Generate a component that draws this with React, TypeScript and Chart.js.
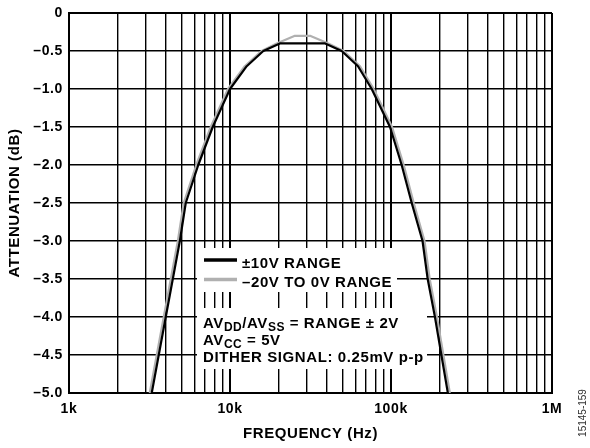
import React, { useEffect, useRef } from 'react';
import { Chart, registerables } from 'chart.js';

Chart.register(...registerables);

// ---- data ----
const X_TICK_VALUES = [1e3, 1e4, 1e5, 1e6];
const X_TICK_LABELS = ['1k', '10k', '100k', '1M'];
const Y_TICK_VALUES = [0, -0.5, -1, -1.5, -2, -2.5, -3, -3.5, -4, -4.5, -5];
const Y_TICK_LABELS = ['0', '–0.5', '–1.0', '–1.5', '–2.0', '–2.5', '–3.0', '–3.5', '–4.0', '–4.5', '–5.0'];
const MINOR_MULTIPLES = [1, 2, 3, 4, 5, 6, 7, 8, 9];

const SERIES_LABELS = ['±10V RANGE', '–20V TO 0V RANGE'];

const BLACK_FREQ = [3265, 3990, 4880, 5310, 6350, 7810, 10000, 12700, 16100, 20400, 39000, 49400, 62400, 75900, 98600, 116500, 134500, 157000, 169000, 187500, 205600, 225500];
const BLACK_ATT = [-5.0, -4.0, -3.0, -2.5, -2.0, -1.5, -1.0, -0.7, -0.5, -0.4, -0.4, -0.5, -0.7, -1.0, -1.5, -2.0, -2.5, -3.0, -3.5, -4.0, -4.5, -5.0];

const GRAY_FREQ = [3174, 3878, 4743, 5161, 6172, 7591, 9720, 12350, 15700, 19500, 25300, 31400, 40800, 50800, 64200, 78100, 101500, 119900, 138400, 161500, 173900, 192900, 211500, 232000];
const GRAY_ATT = [-5.0, -4.0, -3.0, -2.5, -2.0, -1.5, -1.0, -0.7, -0.5, -0.4, -0.3, -0.3, -0.4, -0.5, -0.7, -1.0, -1.5, -2.0, -2.5, -3.0, -3.5, -4.0, -4.5, -5.0];

const NOTE_LINES = [
  [{ t: 'AV' }, { t: 'DD', sub: true }, { t: '/AV' }, { t: 'SS', sub: true }, { t: ' = RANGE ± 2V' }],
  [{ t: 'AV' }, { t: 'CC', sub: true }, { t: ' = 5V' }],
  [{ t: 'DITHER SIGNAL: 0.25mV p-p' }],
];

const FIG_ID = '15145-159';

const FONT = '"Liberation Sans", Arial, Helvetica, sans-serif';

const X_GRID: number[] = [];
for (let d = 0; d < 3; d++) {
  for (const m of MINOR_MULTIPLES) X_GRID.push(m * X_TICK_VALUES[d]);
}
X_GRID.push(X_TICK_VALUES[3]);

const toPoints = (xs: number[], ys: number[]) => xs.map((x, i) => ({ x, y: ys[i] }));

const spacingPlugin = {
  id: 'spacing',
  beforeLayout(chart: any) {
    chart.ctx.letterSpacing = '0.6px';
  },
  beforeDraw(chart: any) {
    chart.ctx.letterSpacing = '0.6px';
  },
};

const annotationPlugin = {
  id: 'annot',
  beforeDatasetsDraw(chart: any) {
    const ctx = chart.ctx as CanvasRenderingContext2D;
    ctx.save();
    ctx.fillStyle = '#ffffff';
    ctx.fillRect(197, 248, 200, 44);
    ctx.fillRect(197, 308, 230, 61);

    const legendY = [260, 279.5];
    const textBase = [267.5, 286.5];
    chart.data.datasets.forEach((ds: any, i: number) => {
      ctx.strokeStyle = ds.borderColor;
      ctx.lineWidth = 3.5;
      ctx.lineCap = 'butt';
      ctx.beginPath();
      ctx.moveTo(204, legendY[i]);
      ctx.lineTo(237, legendY[i]);
      ctx.stroke();
      ctx.fillStyle = '#000';
      ctx.font = `bold 15px ${FONT}`;
      (ctx as any).letterSpacing = '0.6px';
      ctx.textBaseline = 'alphabetic';
      ctx.textAlign = 'left';
      ctx.fillText(ds.label, 242, textBase[i]);
    });

    const bases = [327.5, 344.5, 362];
    NOTE_LINES.forEach((parts, li) => {
      let x = 203;
      parts.forEach((p: any) => {
        if (p.sub) {
          ctx.font = `bold 12px ${FONT}`;
          (ctx as any).letterSpacing = '0.5px';
          ctx.fillText(p.t, x, bases[li] + 3);
        } else {
          ctx.font = `bold 15px ${FONT}`;
          (ctx as any).letterSpacing = '0.6px';
          ctx.fillText(p.t, x, bases[li]);
        }
        x += ctx.measureText(p.t).width;
      });
    });
    ctx.restore();
  },
  afterDraw(chart: any) {
    const ctx = chart.ctx as CanvasRenderingContext2D;
    ctx.save();
    (ctx as any).letterSpacing = '0px';
    ctx.translate(583, 413);
    ctx.rotate(-Math.PI / 2);
    ctx.font = `10px ${FONT}`;
    ctx.fillStyle = '#333';
    ctx.textAlign = 'center';
    ctx.textBaseline = 'middle';
    ctx.fillText(FIG_ID, 0, 0);
    ctx.restore();
  },
};

export default function App() {
  const ref = useRef<HTMLCanvasElement | null>(null);

  useEffect(() => {
    if (!ref.current) return;
    const chart = new Chart(ref.current, {
      type: 'line',
      data: {
        datasets: [
          {
            label: SERIES_LABELS[0],
            data: toPoints(BLACK_FREQ, BLACK_ATT),
            borderColor: '#000000',
            borderWidth: 2.2,
            pointRadius: 0,
            tension: 0,
            borderJoinStyle: 'round',
          },
          {
            label: SERIES_LABELS[1],
            data: toPoints(GRAY_FREQ, GRAY_ATT),
            borderColor: '#b0b0b0',
            borderWidth: 2.2,
            pointRadius: 0,
            tension: 0,
            borderJoinStyle: 'round',
          },
        ],
      },
      options: {
        responsive: false,
        animation: false,
        layout: { padding: { top: 7, right: 38, bottom: 0, left: 0 } },
        plugins: {
          legend: { display: false },
          tooltip: { enabled: false },
        },
        scales: {
          x: {
            type: 'logarithmic',
            min: 1000,
            max: 1e6,
            afterBuildTicks: (scale: any) => {
              scale.ticks = X_GRID.map((v) => ({ value: v }));
            },
            afterFit: (scale: any) => {
              scale.height = 55;
            },
            ticks: {
              autoSkip: false,
              maxRotation: 0,
              minRotation: 0,
              padding: 9,
              color: '#000',
              font: { family: FONT, size: 14, weight: 'bold', lineHeight: 1 },
              callback: (v: any) => {
                const i = X_TICK_VALUES.indexOf(Number(v));
                return i >= 0 ? X_TICK_LABELS[i] : '';
              },
            },
            grid: {
              color: '#000',
              drawTicks: false,
              lineWidth: (c: any) => (c.tick && X_TICK_VALUES.includes(c.tick.value) ? 2 : 1.4),
            },
            border: { color: '#000', width: 2 },
            title: {
              display: true,
              text: 'FREQUENCY (Hz)',
              color: '#000',
              font: { family: FONT, size: 15, weight: 'bold' },
              padding: { top: 0, bottom: 5 },
            },
          },
          y: {
            type: 'linear',
            min: -5,
            max: 0,
            afterBuildTicks: (scale: any) => {
              scale.ticks = Y_TICK_VALUES.map((v) => ({ value: v }));
            },
            afterFit: (scale: any) => {
              scale.width = 69;
            },
            ticks: {
              padding: 6,
              color: '#000',
              font: { family: FONT, size: 14, weight: 'bold', lineHeight: 1 },
              callback: (v: any) => {
                const i = Y_TICK_VALUES.indexOf(Number(v));
                return i >= 0 ? Y_TICK_LABELS[i] : '';
              },
            },
            grid: {
              color: '#000',
              drawTicks: false,
              lineWidth: (c: any) => (c.tick && (c.tick.value === 0 || c.tick.value === -5) ? 2 : 1.4),
            },
            border: { color: '#000', width: 2 },
            title: {
              display: true,
              text: 'ATTENUATION (dB)',
              color: '#000',
              font: { family: FONT, size: 15, weight: 'bold' },
              padding: { top: 6, bottom: 0 },
            },
          },
        },
      } as any,
      plugins: [spacingPlugin, annotationPlugin],
    });
    return () => chart.destroy();
  }, []);

  return (
    <div style={{ position: 'fixed', left: 0, top: 0, width: 590, height: 448, background: '#fff' }}>
      <canvas ref={ref} width={590} height={448} style={{ display: 'block', width: 590, height: 448 }} />
    </div>
  );
}
